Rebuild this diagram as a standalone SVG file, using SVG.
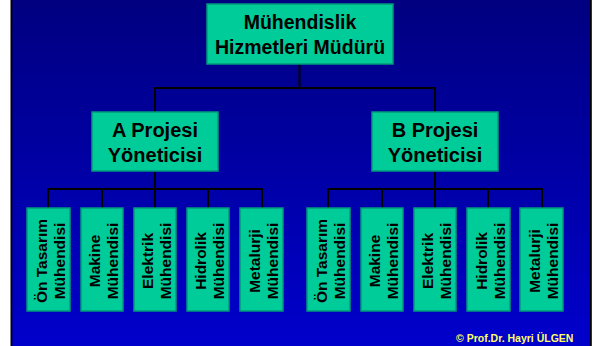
<svg xmlns="http://www.w3.org/2000/svg" width="599" height="346" viewBox="0 0 599 346">
<defs>
<linearGradient id="bg" x1="0" y1="0" x2="0" y2="1">
<stop offset="0" stop-color="#000080"/>
<stop offset="1" stop-color="#0000CC"/>
</linearGradient>
<style>
.box{fill:#00CC99;stroke:#00997A;stroke-width:1.5}
.t{font-family:"Liberation Sans",Arial,sans-serif;font-weight:bold;fill:#000;text-anchor:middle}
.big{font-size:19.5px}
.mid{font-size:20px}
.sm{font-size:15.5px}
.c{stroke:#000;stroke-width:2;fill:none}
</style>
</defs>
<rect x="0" y="0" width="599" height="346" fill="#fff"/>
<rect x="12" y="0" width="578" height="346" fill="url(#bg)"/>
<rect x="10.5" y="0" width="1.8" height="346" fill="#000"/>
<rect x="590" y="0" width="1.8" height="346" fill="#000"/>
<g id="connectors" class="c">
<path d="M299.5 64V88M154 88H436M155 88V112M435 88V112"/>
<path d="M155 171V189M47 189H263M48 189V208M102 189V208M155 189V208M208 189V208M262 189V208"/>
<path d="M435 171V189M327 189H543M328 189V208M382 189V208M435 189V208M488 189V208M542 189V208"/>
</g>
<g id="top"><rect class="box" x="207" y="4" width="186" height="60"/>
<text class="t big" x="300" y="29">Mühendislik</text><text class="t big" x="300" y="54">Hizmetleri Müdürü</text></g>
<g id="pmA"><rect class="box" x="92" y="112" width="126" height="59"/>
<text class="t mid" x="155" y="137">A Projesi</text><text class="t mid" x="155" y="162">Yöneticisi</text></g>
<g id="pmB"><rect class="box" x="372" y="112" width="126" height="59"/>
<text class="t mid" x="435" y="137">B Projesi</text><text class="t mid" x="435" y="162">Yöneticisi</text></g>
<g id="a1"><rect class="box" x="27" y="208" width="43" height="103"/><g transform="translate(48.5 261) rotate(-90)"><text class="t sm" y="-2">Ön Tasarım</text><text class="t sm" y="16">Mühendisi</text></g></g>
<g id="a2"><rect class="box" x="81" y="208" width="42" height="103"/><g transform="translate(102 261) rotate(-90)"><text class="t sm" y="-2">Makine</text><text class="t sm" y="16">Mühendisi</text></g></g>
<g id="a3"><rect class="box" x="134" y="208" width="42" height="103"/><g transform="translate(155 261) rotate(-90)"><text class="t sm" y="-2">Elektrik</text><text class="t sm" y="16">Mühendisi</text></g></g>
<g id="a4"><rect class="box" x="187" y="208" width="42" height="103"/><g transform="translate(208 261) rotate(-90)"><text class="t sm" y="-2">Hidrolik</text><text class="t sm" y="16">Mühendisi</text></g></g>
<g id="a5"><rect class="box" x="240" y="208" width="43" height="103"/><g transform="translate(261.5 261) rotate(-90)"><text class="t sm" y="-2">Metalurji</text><text class="t sm" y="16">Mühendisi</text></g></g>
<g id="b1"><rect class="box" x="307" y="208" width="43" height="103"/><g transform="translate(328.5 261) rotate(-90)"><text class="t sm" y="-2">Ön Tasarım</text><text class="t sm" y="16">Mühendisi</text></g></g>
<g id="b2"><rect class="box" x="361" y="208" width="42" height="103"/><g transform="translate(382 261) rotate(-90)"><text class="t sm" y="-2">Makine</text><text class="t sm" y="16">Mühendisi</text></g></g>
<g id="b3"><rect class="box" x="414" y="208" width="42" height="103"/><g transform="translate(435 261) rotate(-90)"><text class="t sm" y="-2">Elektrik</text><text class="t sm" y="16">Mühendisi</text></g></g>
<g id="b4"><rect class="box" x="467" y="208" width="43" height="103"/><g transform="translate(488.5 261) rotate(-90)"><text class="t sm" y="-2">Hidrolik</text><text class="t sm" y="16">Mühendisi</text></g></g>
<g id="b5"><rect class="box" x="520" y="208" width="43" height="103"/><g transform="translate(541.5 261) rotate(-90)"><text class="t sm" y="-2">Metalurji</text><text class="t sm" y="16">Mühendisi</text></g></g>
<text x="456" y="341.5" font-family="'Liberation Sans',Arial,sans-serif" font-weight="bold" font-size="10.5" fill="#FFFF66">© Prof.Dr. Hayri ÜLGEN</text>
</svg>
